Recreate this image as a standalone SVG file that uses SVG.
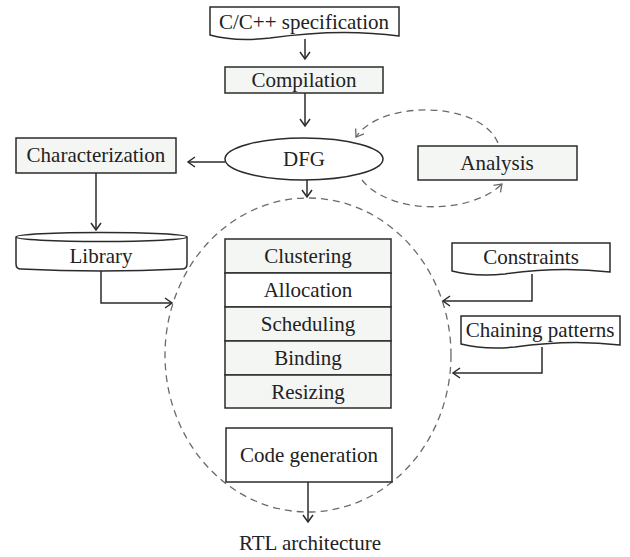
<svg xmlns="http://www.w3.org/2000/svg" width="630" height="557" viewBox="0 0 630 557">
<defs>
<style>
.box{fill:#f4f6f4;stroke:#2b2b2b;stroke-width:1.5}
.wbox{fill:#ffffff;stroke:#2b2b2b;stroke-width:1.5}
.t{font-family:"Liberation Serif","Times New Roman",serif;font-size:21px;fill:#222;text-anchor:middle}
.line{fill:none;stroke:#2b2b2b;stroke-width:1.5}
.dash{fill:none;stroke:#6a6a6a;stroke-width:1.3;stroke-dasharray:7,5}
</style>
<marker id="ah" markerWidth="12" markerHeight="12" refX="9" refY="6" orient="auto" markerUnits="userSpaceOnUse">
<path d="M2,1 L9,6 L2,11" fill="none" stroke="#2b2b2b" stroke-width="1.5"/>
</marker>
<marker id="ahg" markerWidth="12" markerHeight="12" refX="9" refY="6" orient="auto" markerUnits="userSpaceOnUse">
<path d="M2,1 L9,6 L2,11" fill="none" stroke="#6a6a6a" stroke-width="1.3"/>
</marker>
</defs>
<rect width="630" height="557" fill="#ffffff"/>

<g id="region">
<ellipse class="dash" cx="308" cy="355" rx="143" ry="157"/>
</g>

<g id="connectors">
<path class="line" d="M305,39 V59" marker-end="url(#ah)"/>
<path class="line" d="M305,93 V126" marker-end="url(#ah)"/>
<path class="line" d="M225,162 H188" marker-end="url(#ah)"/>
<path class="line" d="M96,173 V230" marker-end="url(#ah)"/>
<path class="line" d="M307,180 V197" marker-end="url(#ah)"/>
<path class="line" d="M101,270 V303 H172" marker-end="url(#ah)"/>
<path class="line" d="M532,274 V301 H443" marker-end="url(#ah)"/>
<path class="line" d="M542,347 V373 H453" marker-end="url(#ah)"/>
<path class="line" d="M308,482 V522" marker-end="url(#ah)"/>
<path class="dash" d="M498,143 C480,100 380,100 356,137" marker-end="url(#ahg)"/>
<path class="dash" d="M362,180 C390,215 470,215 502,184" marker-end="url(#ahg)"/>
</g>

<g id="spec">
<path class="wbox" d="M210,7 H399 V36 Q340,28 270,38 Q235,42 210,35 Z"/>
<text class="t" x="304" y="29">C/C++ specification</text>
</g>
<g id="compilation">
<rect class="box" x="225" y="67" width="158" height="26"/>
<text class="t" x="304" y="87">Compilation</text>
</g>
<g id="dfg">
<ellipse class="wbox" cx="304" cy="159" rx="79" ry="21"/>
<text class="t" x="304" y="166">DFG</text>
</g>
<g id="characterization">
<rect class="box" x="16" y="138" width="160" height="35"/>
<text class="t" x="96" y="162">Characterization</text>
</g>
<g id="library">
<path class="wbox" d="M16,237 V264 Q16,269 21,269 Q101,273 182,269 Q187,269 187,264 V237"/>
<ellipse class="wbox" cx="101.5" cy="237" rx="85.5" ry="4.5"/>
<text class="t" x="101" y="263">Library</text>
</g>
<g id="analysis">
<rect class="box" x="418" y="146" width="159" height="34"/>
<text class="t" x="497" y="170">Analysis</text>
</g>
<g id="constraints">
<path class="wbox" d="M452,243 H610 V272 Q560,266 505,274 Q475,277 452,271 Z"/>
<text class="t" x="531" y="264">Constraints</text>
</g>
<g id="chaining">
<path class="wbox" d="M461,316 H620 V345 Q570,339 515,347 Q485,350 461,344 Z"/>
<text class="t" x="540" y="337">Chaining patterns</text>
</g>
<g id="clustering">
<rect class="box" x="225" y="239" width="166" height="34"/>
<text class="t" x="308" y="263">Clustering</text>
</g>
<g id="allocation">
<rect class="wbox" x="225" y="273" width="166" height="34"/>
<text class="t" x="308" y="297">Allocation</text>
</g>
<g id="scheduling">
<rect class="box" x="225" y="307" width="166" height="34"/>
<text class="t" x="308" y="331">Scheduling</text>
</g>
<g id="binding">
<rect class="box" x="225" y="341" width="166" height="34"/>
<text class="t" x="308" y="365">Binding</text>
</g>
<g id="resizing">
<rect class="box" x="225" y="375" width="166" height="33"/>
<text class="t" x="308" y="399">Resizing</text>
</g>
<g id="codegen">
<rect class="wbox" x="226" y="428" width="166" height="54"/>
<text class="t" x="309" y="462">Code generation</text>
</g>
<g id="rtl">
<text class="t" x="310" y="550">RTL architecture</text>
</g>
</svg>
